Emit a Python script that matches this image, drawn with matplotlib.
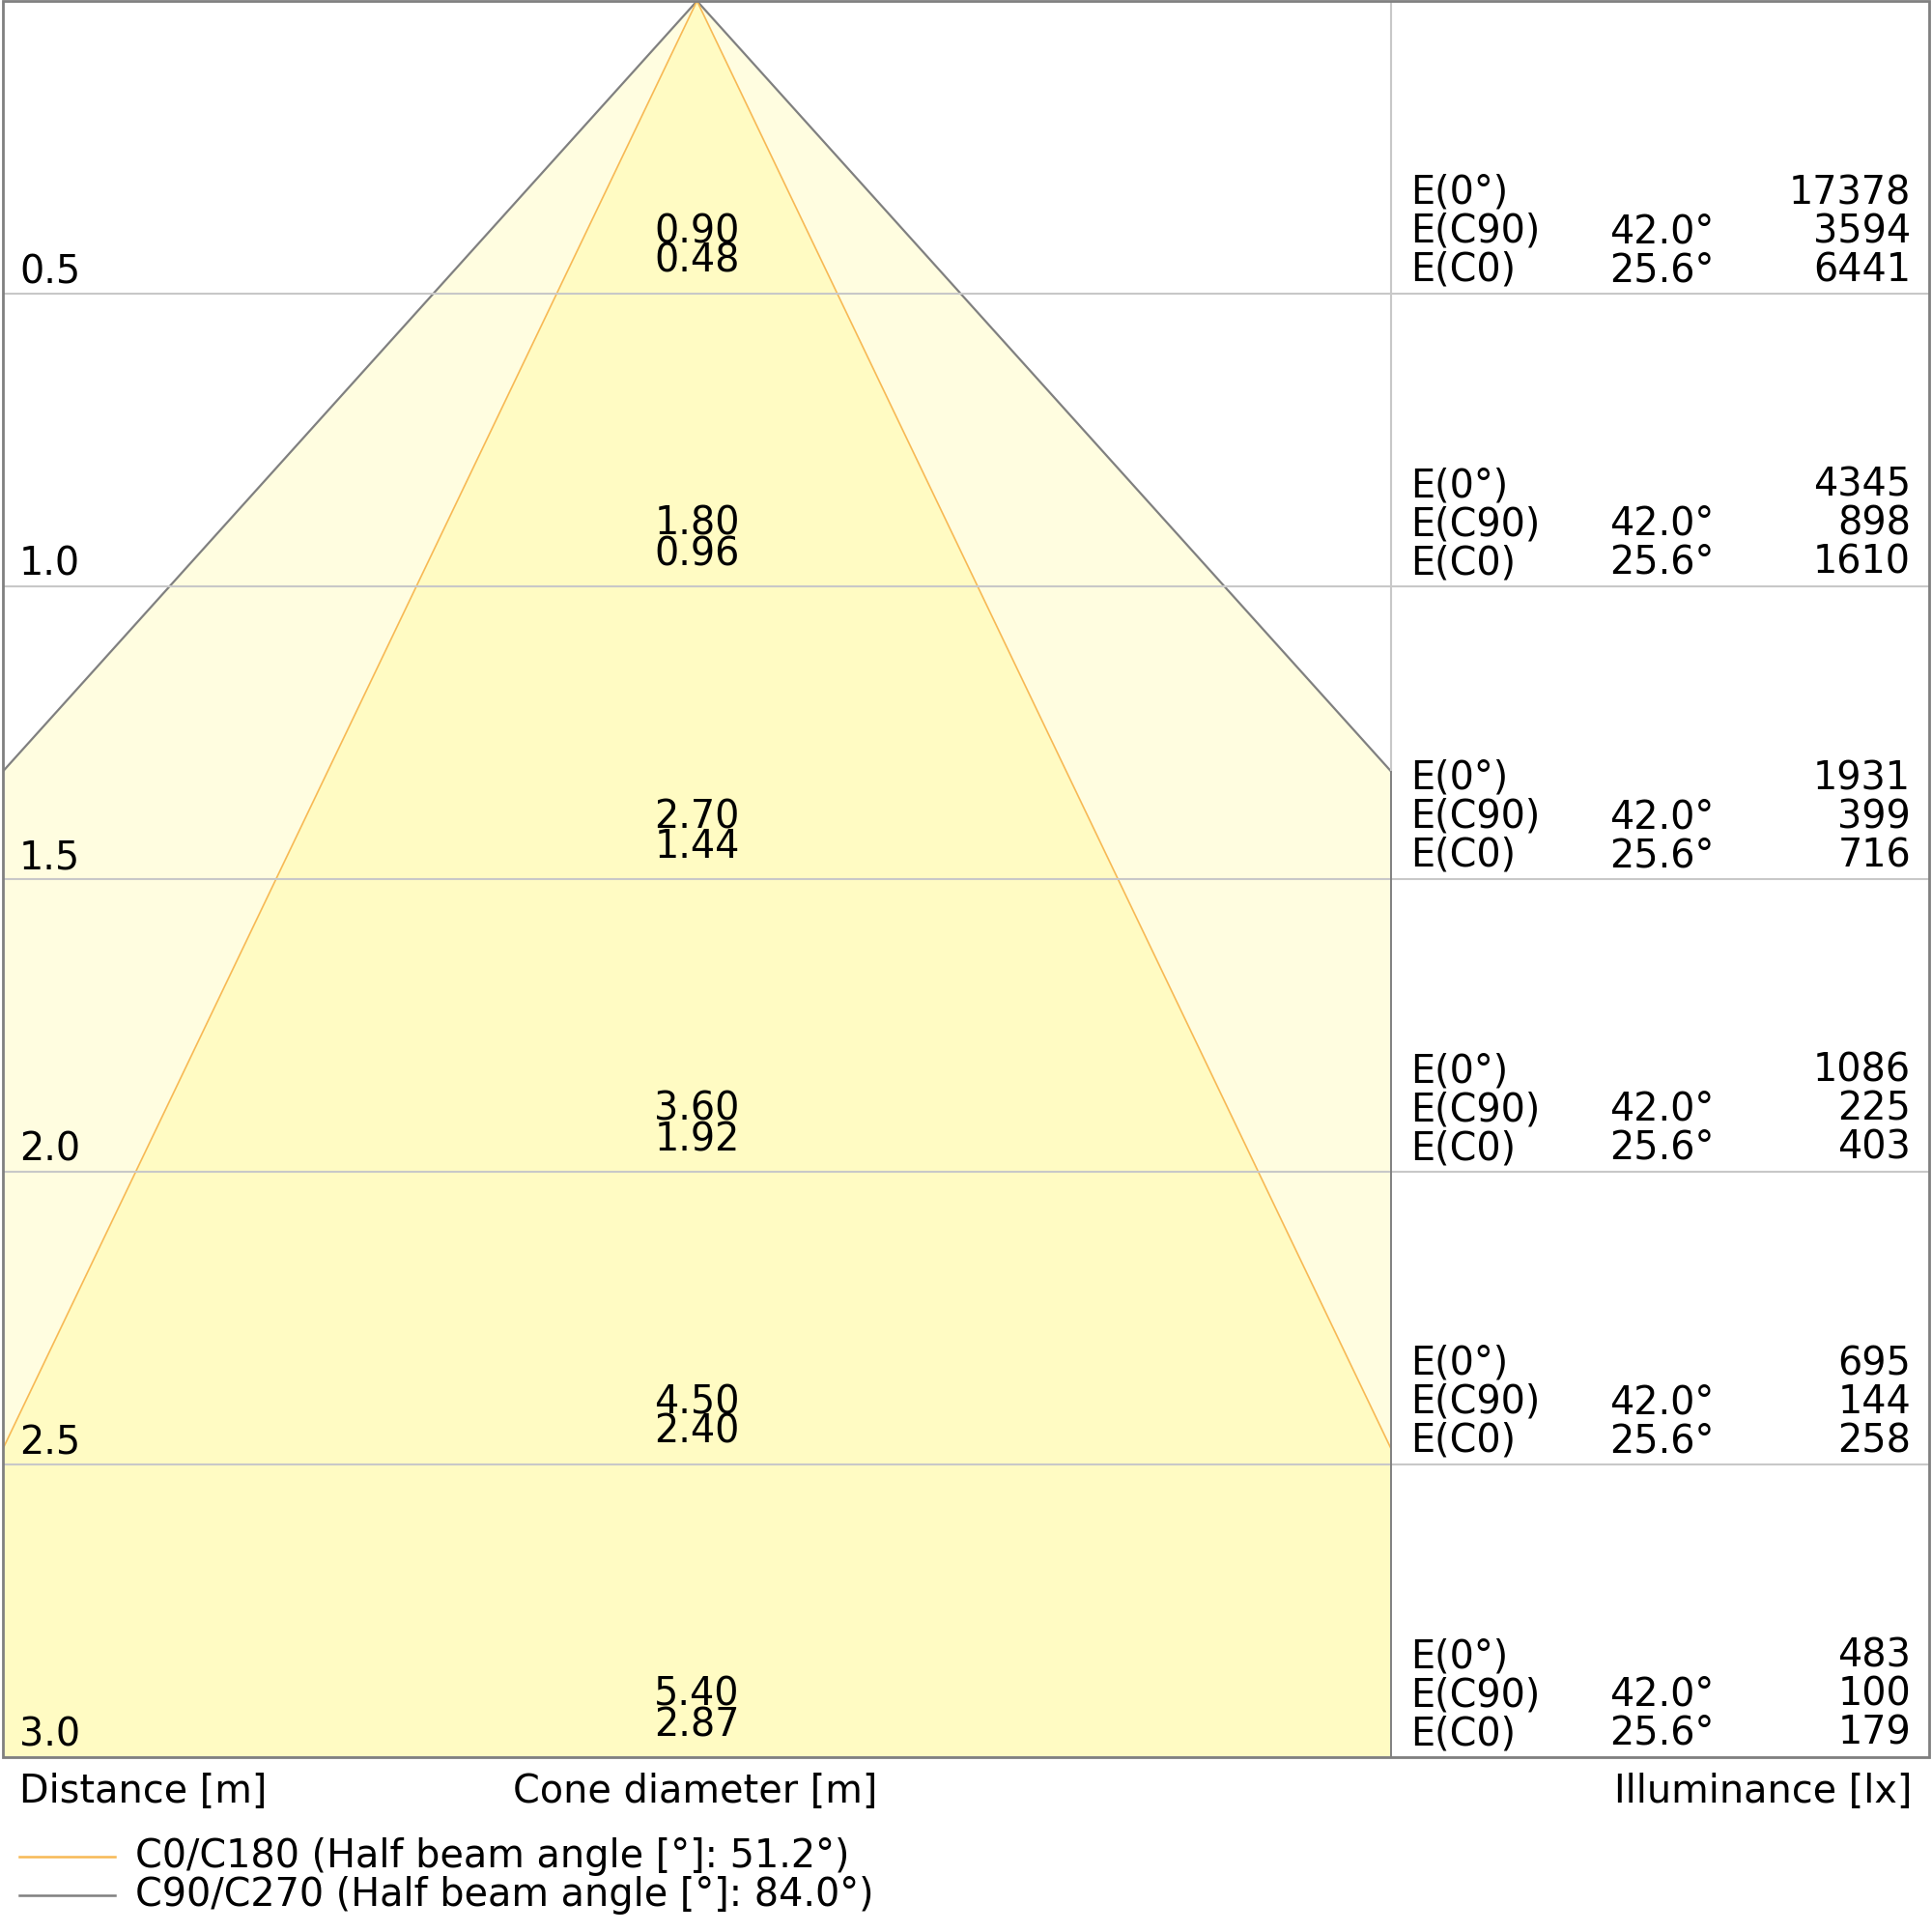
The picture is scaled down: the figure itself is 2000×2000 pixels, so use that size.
import numpy as np
import matplotlib
matplotlib.use("Agg")
import matplotlib.pyplot as plt
from matplotlib.patches import Polygon, Rectangle
from matplotlib.lines import Line2D
import matplotlib.transforms as mtransforms

# --- dane ---
distances = [0.5, 1.0, 1.5, 2.0, 2.5, 3.0]
distance_labels = ["0.5", "1.0", "1.5", "2.0", "2.5", "3.0"]
diam_c90 = ["0.90", "1.80", "2.70", "3.60", "4.50", "5.40"]
diam_c0 = ["0.48", "0.96", "1.44", "1.92", "2.40", "2.87"]
e_0 = [17378, 4345, 1931, 1086, 695, 483]
e_c90 = [3594, 898, 399, 225, 144, 100]
e_c0 = [6441, 1610, 716, 403, 258, 179]
half_angle_c90 = 42.0
half_angle_c0 = 25.6
legend_labels = ["C0/C180 (Half beam angle [°]: 51.2°)",
                 "C90/C270 (Half beam angle [°]: 84.0°)"]

# --- styl ---
FS = 28.6
ORANGE = "#f7b955"
GRAY = "#808080"
GRID = "#c8c8c8"
FILL_OUT = "#fffde0"
FILL_IN = "#fffbc3"

W = 1.185      # polowa szerokosci obszaru stozka [m]
T = 0.9185     # szerokosc tabeli [m]
D_MAX = 3.0

fig = plt.figure(figsize=(20, 20), dpi=100)
ax = fig.add_axes([3 / 2000, 1 - 1819 / 2000, 1994 / 2000, 1818 / 2000])
ax.set_xlim(-W, W + T)
ax.set_ylim(D_MAX, 0)
ax.axis('off')

clip = Rectangle((-W, 0), 2 * W, D_MAX, transform=ax.transData)


def cone(half_angle, face, edge, lw, z):
    r = D_MAX * 3 * np.tan(np.radians(half_angle))
    poly = Polygon([(0, 0), (-r, D_MAX * 3), (r, D_MAX * 3)], closed=True,
                   facecolor=face, edgecolor=edge, lw=lw, zorder=z)
    ax.add_patch(poly)
    poly.set_clip_path(clip)
    return poly


cone(half_angle_c90, FILL_OUT, GRAY, 1.6, 1)
cone(half_angle_c0, FILL_IN, ORANGE, 1.2, 2)

# krawedz stozka C90 tam gdzie ucina go brzeg obszaru
d_cut90 = W / np.tan(np.radians(half_angle_c90))
ax.plot([W, W], [d_cut90, D_MAX], color=GRAY, lw=1.4, zorder=3)
ax.plot([-W, -W], [d_cut90, D_MAX], color=GRAY, lw=1.4, zorder=3)

# linie siatki
for d in distances:
    ax.plot([-W, W + T], [d, d], color=GRID, lw=1.5, zorder=2.5)
ax.plot([W, W], [0, d_cut90], color=GRID, lw=1.5, zorder=2.5)

# ramka
frame = Rectangle((-W, 0), 2 * W + T, D_MAX, fill=False, edgecolor=GRAY,
                  lw=2, zorder=5, clip_on=False)
ax.add_patch(frame)

# --- teksty ---
trans_t = mtransforms.blended_transform_factory(ax.transAxes, ax.transData)
for i, d in enumerate(distances):
    ax.annotate(distance_labels[i], xy=(-W, d), xytext=(17, 11),
                textcoords='offset pixels', fontsize=FS, ha='left', va='baseline')
    ax.annotate(diam_c90[i], xy=(0, d), xytext=(0, 53),
                textcoords='offset pixels', fontsize=FS, ha='center', va='baseline')
    ax.annotate(diam_c0[i], xy=(0, d), xytext=(0, 22),
                textcoords='offset pixels', fontsize=FS, ha='center', va='baseline')

    rows = [("E(0°)", "", e_0[i]),
            ("E(C90)", f"{half_angle_c90:.1f}°", e_c90[i]),
            ("E(C0)", f"{half_angle_c0:.1f}°", e_c0[i])]
    for k, (name, ang, val) in enumerate(rows):
        off = 13 + (2 - k) * 40
        ax.annotate(name, xy=(0.7308, d), xycoords=trans_t, xytext=(0, off),
                    textcoords='offset pixels', fontsize=FS, ha='left', va='baseline')
        if ang:
            ax.annotate(ang, xy=(0.8340, d), xycoords=trans_t, xytext=(0, off),
                        textcoords='offset pixels', fontsize=FS, ha='left', va='baseline')
        ax.annotate(str(val), xy=(0.9905, d), xycoords=trans_t, xytext=(0, off),
                    textcoords='offset pixels', fontsize=FS, ha='right', va='baseline')

# opisy osi pod wykresem
fig.text(20 / 2000, 1 - 1855 / 2000, "Distance [m]", fontsize=FS, ha='left', va='center')
fig.text(720 / 2000, 1 - 1855 / 2000, "Cone diameter [m]", fontsize=FS, ha='center', va='center')
fig.text(1979 / 2000, 1 - 1855 / 2000, "Illuminance [lx]", fontsize=FS, ha='right', va='center')

# legenda
for y_px, col, lab in [(1922, ORANGE, legend_labels[0]), (1962, GRAY, legend_labels[1])]:
    y = 1 - y_px / 2000
    fig.add_artist(Line2D([20 / 2000, 119 / 2000], [y, y], color=col, lw=1.8))
    fig.text(140 / 2000, y, lab, fontsize=FS, ha='left', va='center')

fig.savefig("out.png", dpi=100)
